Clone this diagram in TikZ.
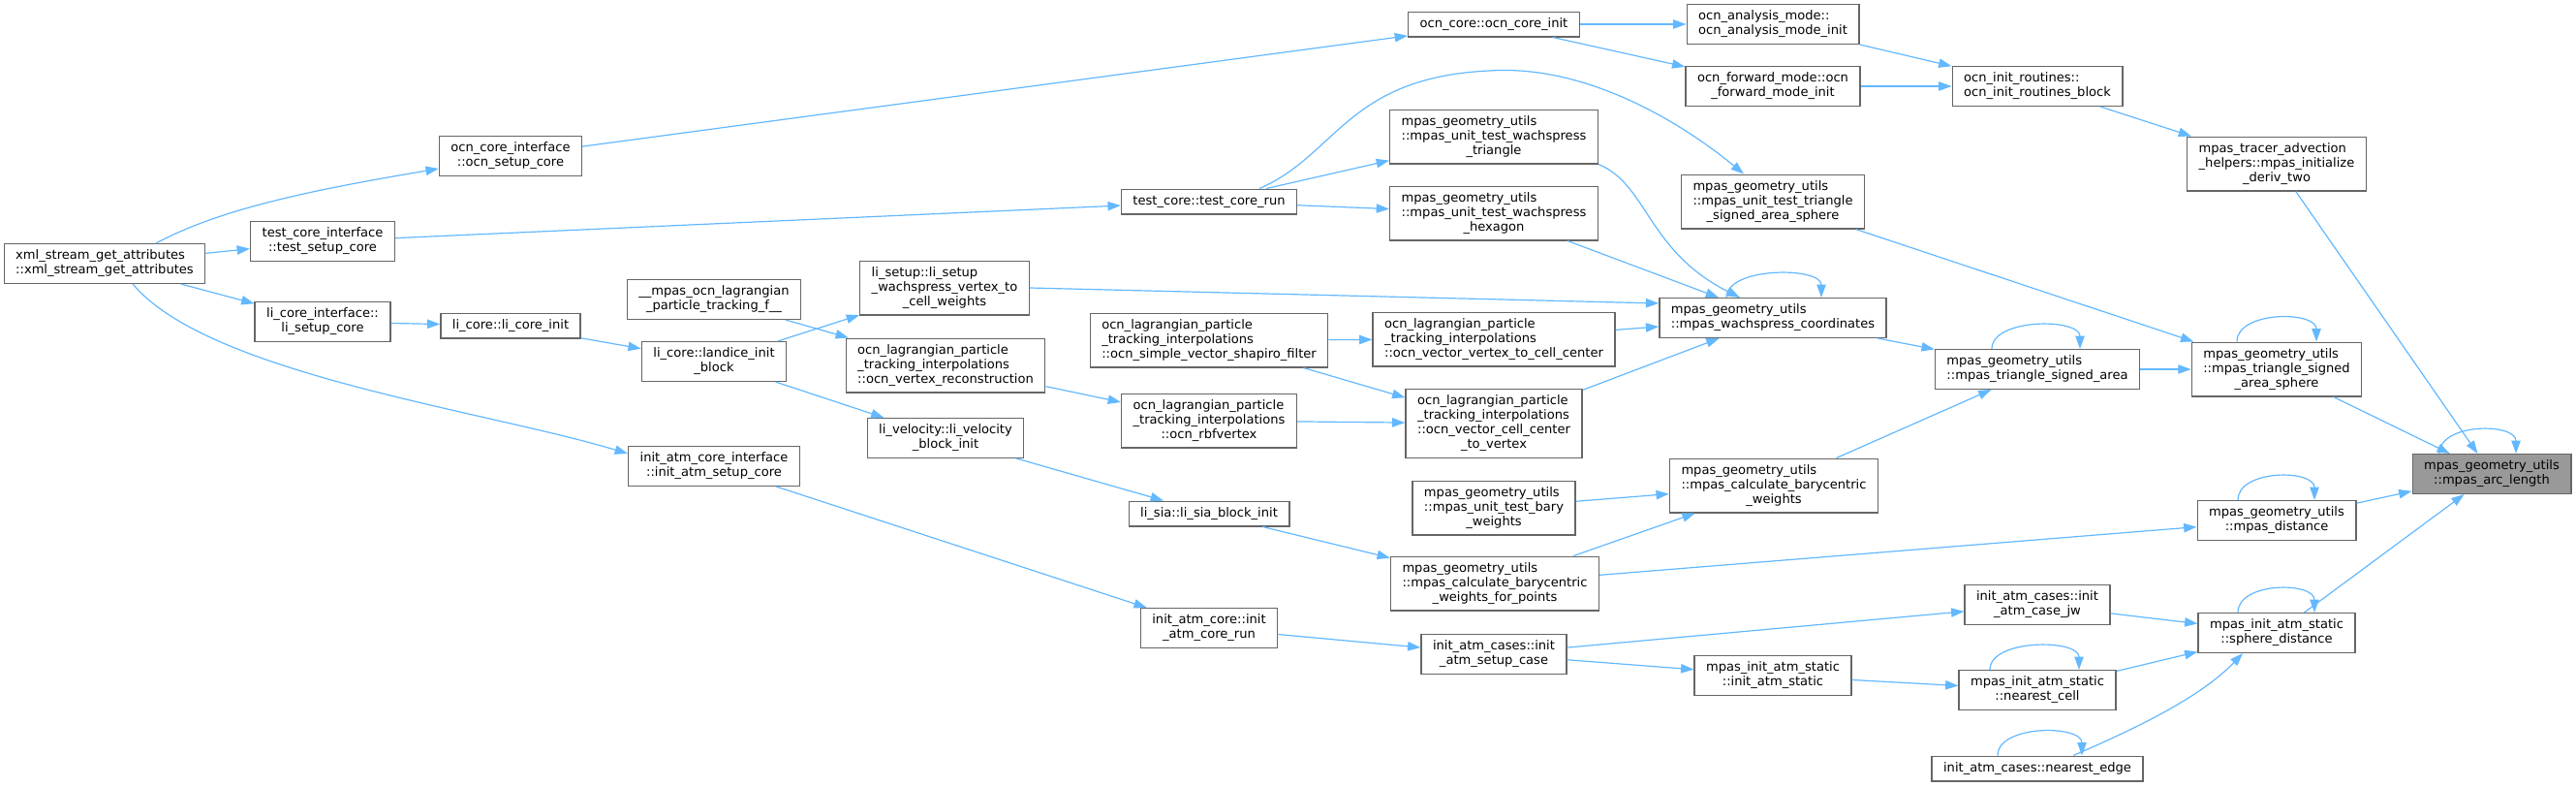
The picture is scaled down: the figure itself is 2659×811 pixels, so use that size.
\documentclass[tikz,border=0pt]{standalone}
\usepackage{fontspec}
\setmainfont{DejaVu Sans}
\usepackage{tikz}
\usetikzlibrary{arrows.meta,calc}
\definecolor{CallBlue}{HTML}{63B8FF}
\definecolor{BoxGray}{HTML}{666666}
\definecolor{RootGray}{HTML}{999999}
\newcommand{\fnl}[2]{\begin{tabular}{@{}l@{}}#1\\\multicolumn{1}{@{}c@{}}{#2}\end{tabular}}
\newcommand{\fno}[1]{\begin{tabular}{@{}c@{}}#1\end{tabular}}
\tikzset{
  fn/.style     = {draw=BoxGray, line width=1pt, fill=white, inner xsep=9pt,
                   inner ysep=4pt, font={\fontsize{9.8}{11.25}\selectfont}},
  fnroot/.style = {fn, fill=RootGray},
  call/.style   = {-{Triangle[length=10pt,width=7pt]}, CallBlue, line width=0.9pt},
}

\begin{document}
\begin{tikzpicture}[x=0.75pt,y=-0.75pt]
  \path[use as bounding box] (0,0) rectangle (2659,811);
  % nodes
  \node[fn] (xml) at (108,272) {\fnl{xml\_stream\_get\_attributes}{::xml\_stream\_get\_attributes}};
  \node[fn] (ocnsetup) at (527,161) {\fnl{ocn\_core\_interface}{::ocn\_setup\_core}};
  \node[fn] (testsetup) at (333,249) {\fnl{test\_core\_interface}{::test\_setup\_core}};
  \node[fn] (lisetupcore) at (333,332) {\fnl{li\_core\_interface::}{li\_setup\_core}};
  \node[fn] (atmsetupcore) at (737,481) {\fnl{init\_atm\_core\_interface}{::init\_atm\_setup\_core}};
  \node[fn] (licoreinit) at (527,336) {\fno{li\_core::li\_core\_init}};
  \node[fn] (landice) at (737,373) {\fnl{li\_core::landice\_init}{\_block}};
  \node[fn] (ocnf) at (737,309) {\fnl{\_\_mpas\_ocn\_lagrangian}{\_particle\_tracking\_f\_\_}};
  \node[fn] (lisetupwach) at (975,297) {\fnl{li\_setup::li\_setup\\\_wachspress\_vertex\_to}{\_cell\_weights}};
  \node[fn] (vertexrecon) at (976,377) {\fnl{ocn\_lagrangian\_particle\\\_tracking\_interpolations}{::ocn\_vertex\_reconstruction}};
  \node[fn] (livelocity) at (976,452) {\fnl{li\_velocity::li\_velocity}{\_block\_init}};
  \node[fn] (lisia) at (1248,530) {\fno{li\_sia::li\_sia\_block\_init}};
  \node[fn] (atmcorerun) at (1248,648) {\fnl{init\_atm\_core::init}{\_atm\_core\_run}};
  \node[fn] (testcorerun) at (1248,208) {\fno{test\_core::test\_core\_run}};
  \node[fn] (shapiro) at (1248,351) {\fnl{ocn\_lagrangian\_particle\\\_tracking\_interpolations}{::ocn\_simple\_vector\_shapiro\_filter}};
  \node[fn] (rbfvertex) at (1248,434) {\fnl{ocn\_lagrangian\_particle\\\_tracking\_interpolations}{::ocn\_rbfvertex}};
  \node[fn] (ocncoreinit) at (1542,25) {\fno{ocn\_core::ocn\_core\_init}};
  \node[fn] (wachtri) at (1542,141) {\fnl{mpas\_geometry\_utils\\::mpas\_unit\_test\_wachspress}{\_triangle}};
  \node[fn] (wachhex) at (1542,220) {\fnl{mpas\_geometry\_utils\\::mpas\_unit\_test\_wachspress}{\_hexagon}};
  \node[fn] (vv2cc) at (1542,350) {\fnl{ocn\_lagrangian\_particle\\\_tracking\_interpolations}{::ocn\_vector\_vertex\_to\_cell\_center}};
  \node[fn] (cc2v) at (1542,437) {\fnl{ocn\_lagrangian\_particle\\\_tracking\_interpolations\\::ocn\_vector\_cell\_center}{\_to\_vertex}};
  \node[fn] (barytest) at (1542,524) {\fnl{mpas\_geometry\_utils\\::mpas\_unit\_test\_bary}{\_weights}};
  \node[fn] (bwpoints) at (1543,602) {\fnl{mpas\_geometry\_utils\\::mpas\_calculate\_barycentric}{\_weights\_for\_points}};
  \node[fn] (setupcase) at (1542,675) {\fnl{init\_atm\_cases::init}{\_atm\_setup\_case}};
  \node[fn] (analysis) at (1830,25) {\fnl{ocn\_analysis\_mode::}{ocn\_analysis\_mode\_init}};
  \node[fn] (forward) at (1830,89) {\fnl{ocn\_forward\_mode::ocn}{\_forward\_mode\_init}};
  \node[fn] (areatest) at (1830,208) {\fnl{mpas\_geometry\_utils\\::mpas\_unit\_test\_triangle}{\_signed\_area\_sphere}};
  \node[fn] (wachcoord) at (1830,328) {\fnl{mpas\_geometry\_utils}{::mpas\_wachspress\_coordinates}};
  \node[fn] (calcbw) at (1831,501) {\fnl{mpas\_geometry\_utils\\::mpas\_calculate\_barycentric}{\_weights}};
  \node[fn] (atmstatic) at (1830,697) {\fnl{mpas\_init\_atm\_static}{::init\_atm\_static}};
  \node[fn] (initroutines) at (2103,89) {\fnl{ocn\_init\_routines::}{ocn\_init\_routines\_block}};
  \node[fn] (trisa) at (2103,381) {\fnl{mpas\_geometry\_utils}{::mpas\_triangle\_signed\_area}};
  \node[fn] (casejw) at (2103,624) {\fnl{init\_atm\_cases::init}{\_atm\_case\_jw}};
  \node[fn] (nearcell) at (2103,712) {\fnl{mpas\_init\_atm\_static}{::nearest\_cell}};
  \node[fn] (nearedge) at (2103,793) {\fno{init\_atm\_cases::nearest\_edge}};
  \node[fn] (derivtwo) at (2350,169) {\fnl{mpas\_tracer\_advection\\\_helpers::mpas\_initialize}{\_deriv\_two}};
  \node[fn] (trisas) at (2350,381) {\fnl{mpas\_geometry\_utils\\::mpas\_triangle\_signed}{\_area\_sphere}};
  \node[fn] (distance) at (2350,537) {\fnl{mpas\_geometry\_utils}{::mpas\_distance}};
  \node[fn] (spheredist) at (2350,653) {\fnl{mpas\_init\_atm\_static}{::sphere\_distance}};
  \node[fnroot] (arclength) at (2572,489) {\fnl{mpas\_geometry\_utils}{::mpas\_arc\_length}};
  % calls
  \draw[call] ($(xml.north)+(53,0)$) .. controls +(69,-37) and +(-124,21) .. ($(ocnsetup.west)+(0,13)$);
  \draw[call] (xml) -- (testsetup);
  \draw[call] (xml) -- (lisetupcore);
  \draw[call] ($(xml.south)+(29,0)$) .. controls +(78,93) and +(-150,-45) .. ($(atmsetupcore.west)+(0,-13)$);
  \draw[call] (ocnsetup) -- (ocncoreinit);
  \draw[call] (testsetup) -- (testcorerun);
  \draw[call] (lisetupcore) -- (licoreinit);
  \draw[call] (licoreinit) -- (landice);
  \draw[call] (atmsetupcore) -- (atmcorerun);
  \draw[call] (landice) -- (lisetupwach);
  \draw[call] (landice) -- (livelocity);
  \draw[call] (ocnf) -- (vertexrecon);
  \draw[call] (testcorerun) -- (wachtri);
  \draw[call] (testcorerun) -- (wachhex);
  \draw[call] ($(testcorerun.north)+(52,0)$) .. controls (1380,160) and (1390,80) .. (1537,73)
    .. controls (1640,66) and (1740,130) .. ($(areatest.north)+(-30,0)$);
  \draw[call] (ocncoreinit) -- (analysis);
  \draw[call] (ocncoreinit) -- (forward);
  \draw[call] (analysis) -- (initroutines);
  \draw[call] (forward) -- (initroutines);
  \draw[call] (initroutines) -- (derivtwo);
  \draw[call] (derivtwo) -- (arclength);
  \draw[call] (lisetupwach.east) -- ($(wachcoord.west)+(0,-15)$);
  \draw[call] (wachtri.south east) .. controls +(51,21) and +(-96,-48) .. ($(wachcoord.north)+(-34,0)$);
  \draw[call] (wachhex) -- (wachcoord);
  \draw[call] (vv2cc) -- (wachcoord);
  \draw[call] (cc2v) -- (wachcoord);
  \draw[call] (shapiro) -- (vv2cc);
  \draw[call] (shapiro) -- (cc2v);
  \draw[call] (vertexrecon) -- (rbfvertex);
  \draw[call] (rbfvertex) -- (cc2v);
  \draw[call] (livelocity) -- (lisia);
  \draw[call] (lisia) -- (bwpoints);
  \draw[call] (barytest) -- (calcbw);
  \draw[call] (bwpoints) -- (calcbw);
  \draw[call] (calcbw) -- (trisa);
  \draw[call] (wachcoord) -- (trisa);
  \draw[call] (trisa) -- (trisas);
  \draw[call] (areatest) -- (trisas);
  \draw[call] (trisas) -- (arclength);
  \draw[call] (bwpoints) -- (distance);
  \draw[call] (distance) -- (arclength);
  \draw[call] (atmcorerun) -- (setupcase);
  \draw[call] (setupcase) -- (casejw);
  \draw[call] (setupcase) -- (atmstatic);
  \draw[call] (atmstatic) -- (nearcell);
  \draw[call] (casejw) -- (spheredist);
  \draw[call] (nearcell) -- (spheredist);
  \draw[call] ($(nearedge.north)+(37,0)$) .. controls +(60,-26) and +(-45,47) .. ($(spheredist.south)+(-35,0)$);
  \draw[call] (spheredist) -- (arclength);
  % self calls
  \draw[call] ($(wachcoord.north)+(-48,0)$) .. controls +(0,-32) and +(0,-32) .. ($(wachcoord.north)+(50,0)$);
  \draw[call] ($(trisa.north)+(-47,0)$) .. controls +(0,-32) and +(0,-32) .. ($(trisa.north)+(44,0)$);
  \draw[call] ($(trisas.north)+(-41,0)$) .. controls +(0,-32) and +(0,-32) .. ($(trisas.north)+(41,0)$);
  \draw[call] ($(distance.north)+(-40,0)$) .. controls +(0,-32) and +(0,-32) .. ($(distance.north)+(39,0)$);
  \draw[call] ($(spheredist.north)+(-40,0)$) .. controls +(0,-32) and +(0,-32) .. ($(spheredist.north)+(39,0)$);
  \draw[call] ($(nearcell.north)+(-49,0)$) .. controls +(0,-32) and +(0,-32) .. ($(nearcell.north)+(43,0)$);
  \draw[call] ($(nearedge.north)+(-41,0)$) .. controls +(0,-32) and +(0,-32) .. ($(nearedge.north)+(46,0)$);
  \draw[call] ($(arclength.north)+(-54,0)$) .. controls +(0,-32) and +(0,-32) .. ($(arclength.north)+(25,0)$);
\end{tikzpicture}
\end{document}
